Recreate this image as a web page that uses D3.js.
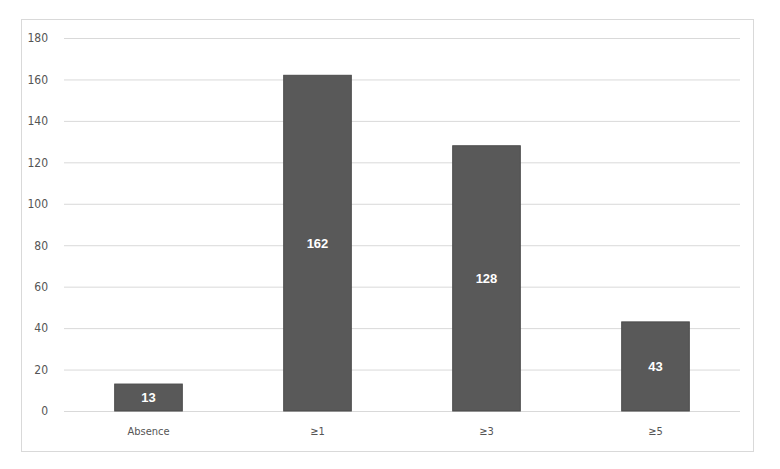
<!DOCTYPE html>
<html lang="en">
<head>
  <meta charset="UTF-8">
  <title>Chart</title>
  <style>
    body { margin: 0; background: #fff; }
    .tick text { font-family: "DejaVu Sans Condensed", "Liberation Sans Narrow", sans-serif; font-stretch: condensed; fill: #555; }
  </style>
</head>
<body>
  <svg width="780" height="469"></svg>
  <script src="https://d3js.org/d3.v7.min.js"></script>
  <script>
    var categories = ["Absence", "\u22651", "\u22653", "\u22655"];
    var values = [13, 162, 128, 43];
    var yTicks = [0, 20, 40, 60, 80, 100, 120, 140, 160, 180];

    var svg = d3.select("svg"),
        margin = {top: 38, right: 40, bottom: 58, left: 64},
        width = +svg.attr("width") - margin.left - margin.right,
        height = +svg.attr("height") - margin.top - margin.bottom;

    // outer frame
    svg.append("rect")
      .attr("x", 21.5).attr("y", 19.5)
      .attr("width", 732).attr("height", 432)
      .attr("fill", "none")
      .attr("stroke", "#d9d9d9");

    var x = d3.scaleBand().domain(categories).range([0, width]).paddingInner(0.6).paddingOuter(0.3),
        y = d3.scaleLinear().domain([0, 180]).range([height, 0]);

    var g = svg.append("g").attr("transform", "translate(" + margin.left + "," + margin.top + ")");

    // gridlines + y labels
    var yAxis = g.append("g")
      .call(d3.axisLeft(y).tickValues(yTicks).tickSize(-width).tickPadding(16));
    yAxis.select(".domain").remove();
    yAxis.selectAll(".tick line").attr("stroke", "#d9d9d9");
    yAxis.selectAll(".tick text").style("font-size", "12px");

    var xAxis = g.append("g")
      .attr("transform", "translate(0," + height + ")")
      .call(d3.axisBottom(x).tickSize(0).tickPadding(16));
    xAxis.select(".domain").remove();
    xAxis.selectAll(".tick text").style("font-size", "11px").attr("fill", "#333");

    g.selectAll(".bar")
      .data(values)
      .enter().append("rect")
      .attr("class", "bar")
      .attr("x", function(d, i) { return x(categories[i]); })
      .attr("y", function(d) { return y(d); })
      .attr("width", x.bandwidth())
      .attr("height", function(d) { return height - y(d); })
      .attr("fill", "#595959")
      .attr("stroke", "#4a4a4a");

    g.selectAll(".val")
      .data(values)
      .enter().append("text")
      .attr("class", "val")
      .attr("x", function(d, i) { return x(categories[i]) + x.bandwidth() / 2; })
      .attr("y", function(d) { return (y(d) + height) / 2; })
      .attr("dy", "0.35em")
      .attr("text-anchor", "middle")
      .style("font", "bold 13px 'Liberation Sans', Arial, sans-serif")
      .attr("fill", "#fff")
      .text(function(d) { return d; });
  </script>
</body>
</html>
